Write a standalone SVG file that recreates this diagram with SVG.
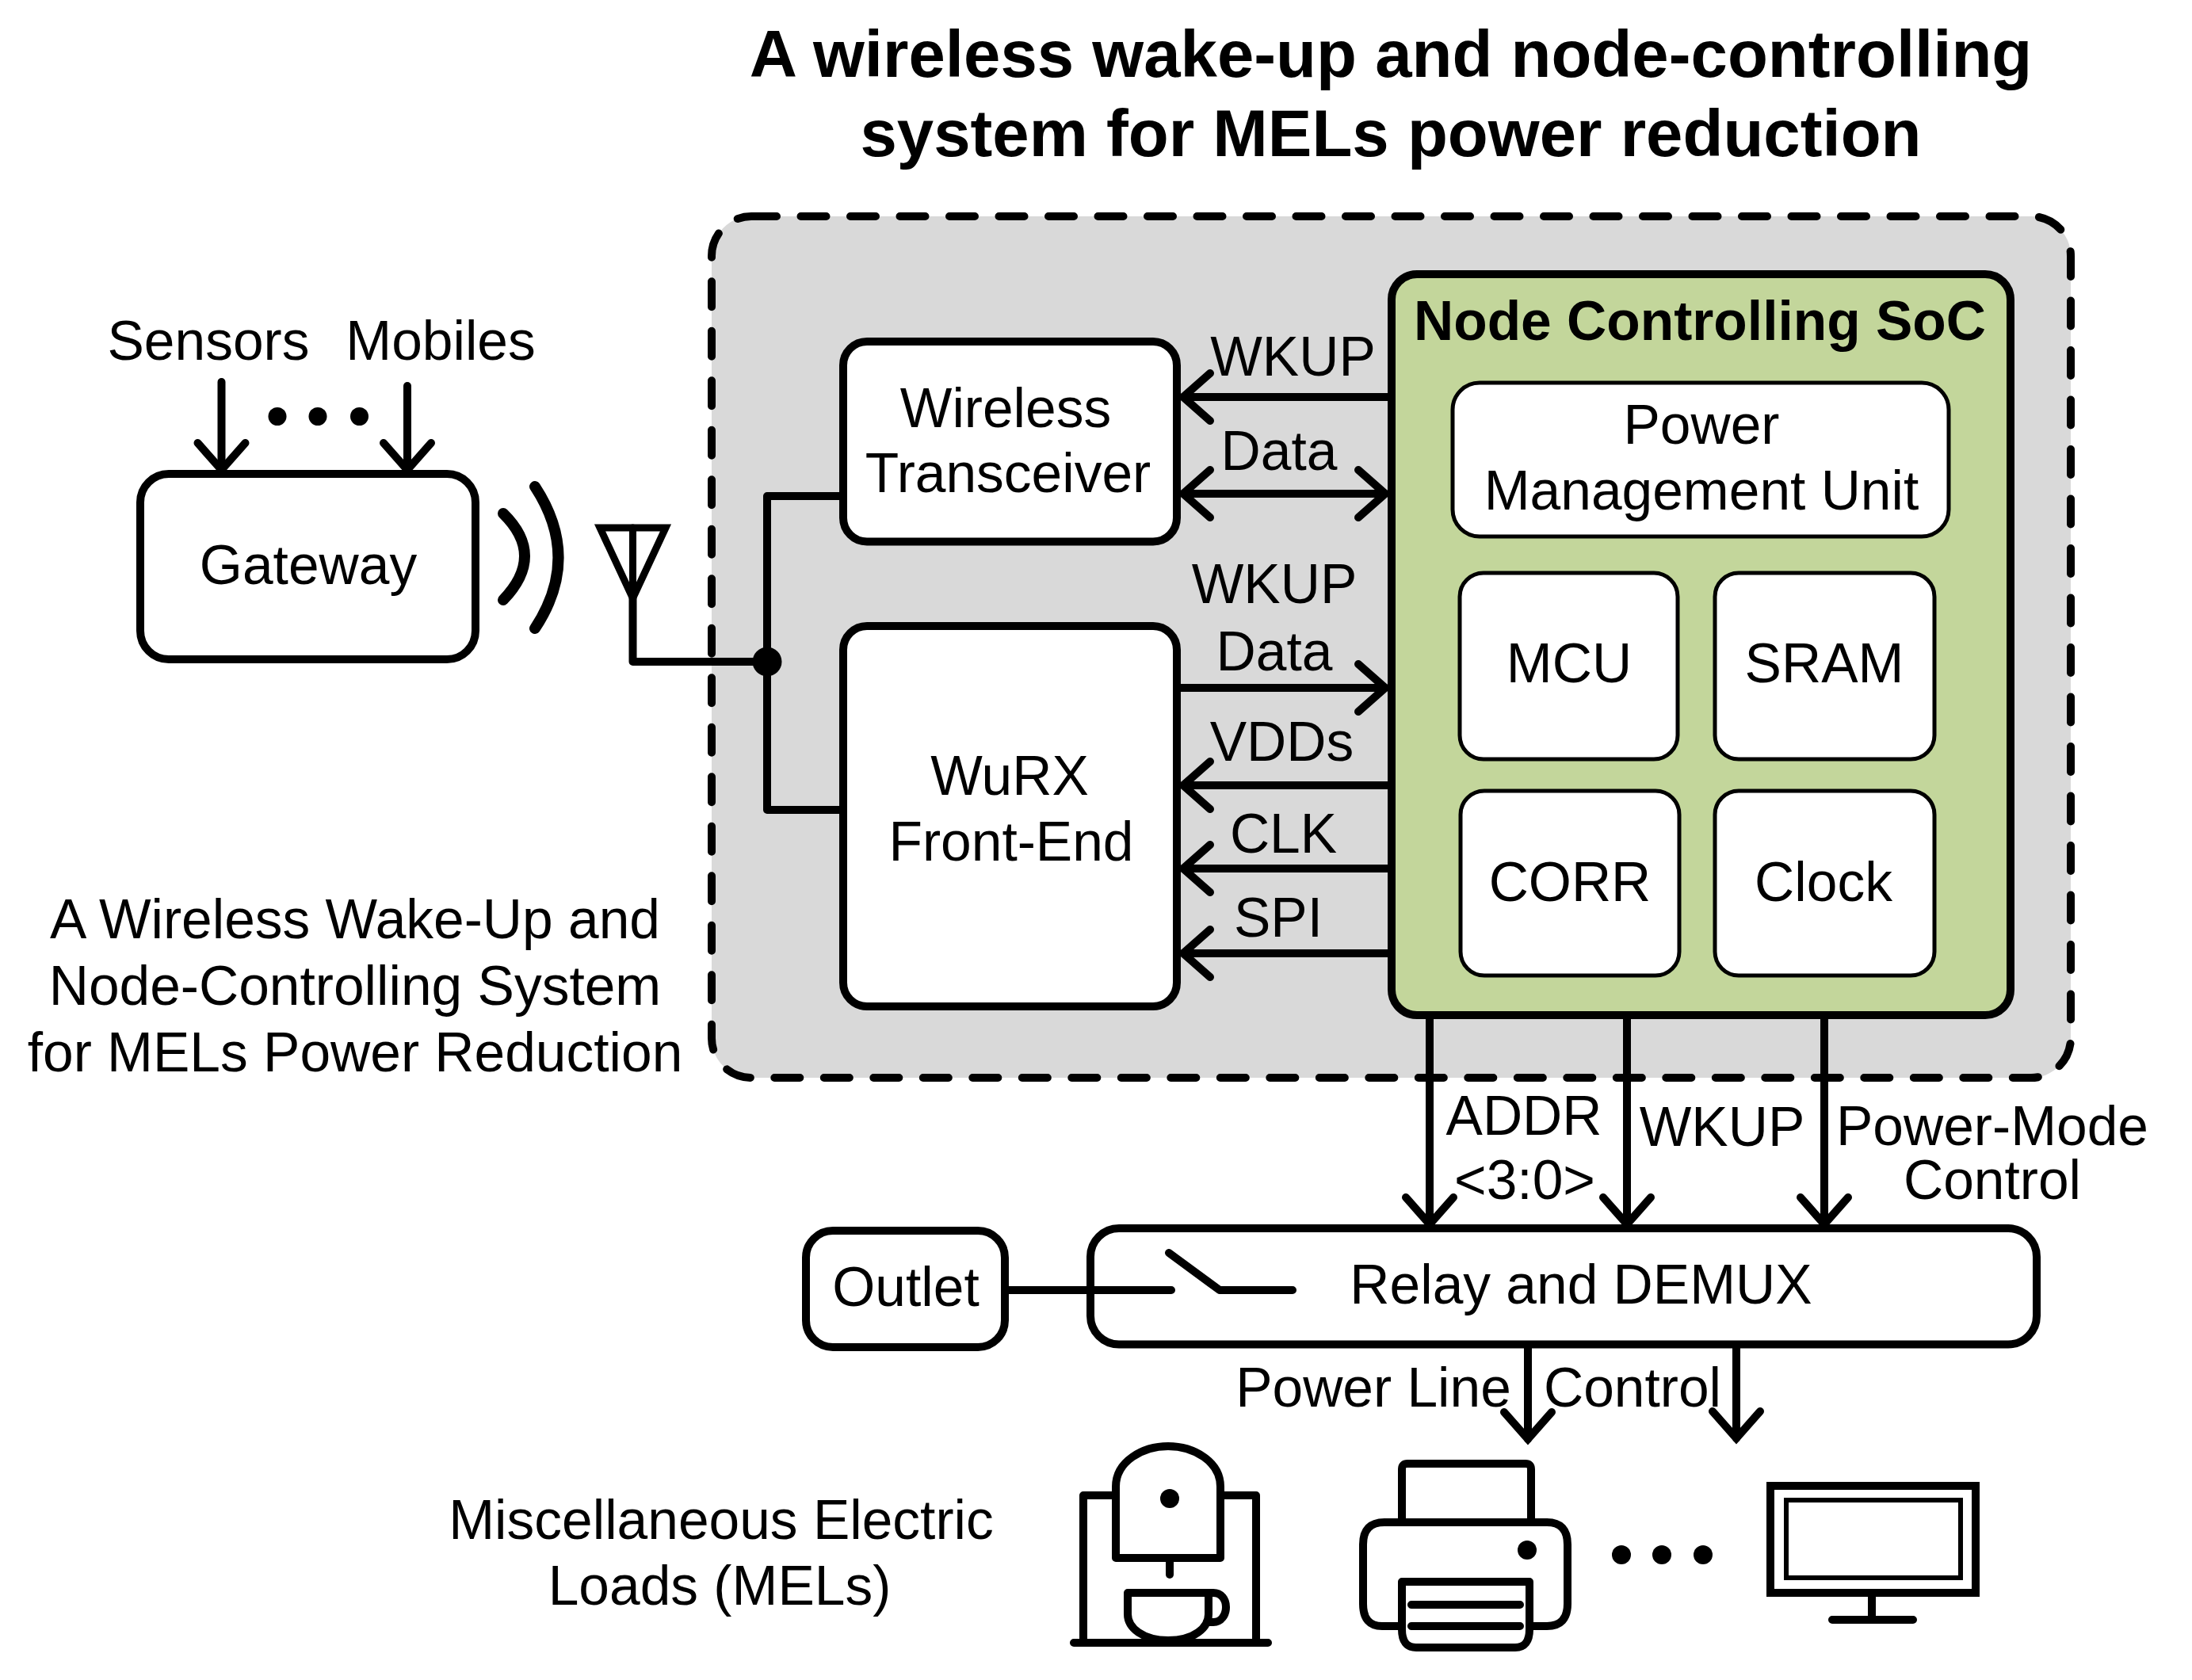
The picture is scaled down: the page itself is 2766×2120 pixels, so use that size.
<svg xmlns="http://www.w3.org/2000/svg" width="2766" height="2120" viewBox="0 0 2766 2120">
<defs>
<marker id="arrow" markerUnits="userSpaceOnUse" markerWidth="80" markerHeight="80" refX="60" refY="40" orient="auto-start-reverse" overflow="visible">
<path d="M26,10 L60,40 L26,70" fill="none" stroke="#000" stroke-width="10" stroke-linecap="round" stroke-linejoin="miter"/>
</marker>
</defs>
<style>
text{font-family:"Liberation Sans",Arial,sans-serif;font-size:69.5px;fill:#000;text-anchor:middle}
.b{font-weight:700}
.t{font-size:83.4px;font-weight:700}
.box{fill:#fff;stroke:#000;stroke-width:10}
.thin{fill:#fff;stroke:#000;stroke-width:5}
.ln{fill:none;stroke:#000;stroke-width:10;stroke-linecap:round;stroke-linejoin:round}
.ar{marker-end:url(#arrow)}
.wave{fill:none;stroke:#000;stroke-width:14;stroke-linecap:round}
.ic{fill:none;stroke:#000;stroke-width:10;stroke-linecap:round;stroke-linejoin:round}
.icw{fill:#fff;stroke:#000;stroke-width:10;stroke-linejoin:round}
</style>
<rect width="2766" height="2120" fill="#fff"/>
<g id="title"><text class="t" x="1755" y="97">A wireless wake-up and node-controlling</text><text class="t" x="1755" y="197">system for MELs power reduction</text></g>
<g id="system"><rect x="898" y="273" width="1715" height="1087" rx="50" fill="#d9d9d9" stroke="#000" stroke-width="10" stroke-dasharray="32 30.5" stroke-linecap="round"/></g>
<g id="connectors">
<path class="ln ar" d="M279.500,482V593"/>
<path class="ln ar" d="M514,487V593"/>
<path class="wave" d="M635,648Q689,701 635,757"/>
<path class="wave" d="M675,614Q734,704 675,793"/>
<path class="ln" d="M798.500,755V835H968M1064,626H968V1022H1064"/>
<path class="ln ar" d="M1756,501H1493"/>
<path class="ln ar" d="M1748,623H1493" style="marker-start:url(#arrow)"/>
<path class="ln ar" d="M1485,868H1748"/>
<path class="ln ar" d="M1756,991H1493"/>
<path class="ln ar" d="M1756,1096H1493"/>
<path class="ln ar" d="M1756,1203H1493"/>
<path class="ln ar" d="M1804,1281V1545"/>
<path class="ln ar" d="M2053,1281V1545"/>
<path class="ln ar" d="M2302,1281V1545"/>
<path class="ln ar" d="M1928,1695V1816"/>
<path class="ln ar" d="M2191,1695V1815"/>
</g>
<g id="dots-inputs"><circle cx="350" cy="525.500" r="11.500"/><circle cx="401" cy="525.500" r="11.500"/><circle cx="453.500" cy="525.500" r="11.500"/></g>
<g id="antenna"><path d="M757,666H840L798.500,755Z" fill="none" stroke="#000" stroke-width="9"/><path class="ln" d="M798.500,666V755" style="stroke-width:9"/><circle cx="968" cy="835" r="18.500"/></g>
<g id="gateway"><rect class="box" x="177" y="598" width="423" height="234" rx="36"/><text x="389" y="737">Gateway</text></g>
<g id="sensor-labels"><text x="263" y="453.500">Sensors</text><text x="556" y="453.500">Mobiles</text></g>
<g id="transceiver"><rect class="box" x="1064" y="431" width="421" height="252.500" rx="30"/><text x="1269" y="539">Wireless</text><text x="1272" y="621">Transceiver</text></g>
<g id="wurx"><rect class="box" x="1064" y="790" width="421" height="480" rx="30"/><text x="1274" y="1003">WuRX</text><text x="1276" y="1086">Front-End</text></g>
<g id="soc"><rect x="1756" y="346" width="781" height="935" rx="32" fill="#c3d69b" stroke="#000" stroke-width="10"/><text class="b" x="2145" y="429">Node Controlling SoC</text></g>
<g id="pmu"><rect class="thin" x="1833" y="483" width="626" height="194" rx="34"/><text x="2147" y="560">Power</text><text x="2147" y="643">Management Unit</text></g>
<g id="mcu"><rect class="thin" x="1842" y="723" width="275" height="235" rx="30"/><text x="1980" y="861">MCU</text></g>
<g id="sram"><rect class="thin" x="2164" y="723" width="277" height="235" rx="30"/><text x="2302" y="861">SRAM</text></g>
<g id="corr"><rect class="thin" x="1843" y="998" width="276" height="233" rx="30"/><text x="1981" y="1137">CORR</text></g>
<g id="clock"><rect class="thin" x="2164" y="998" width="277" height="233" rx="30"/><text x="2301" y="1137">Clock</text></g>
<g id="labels">
<text x="1631.500" y="474">WKUP</text><text x="1614" y="592.500">Data</text>
<text x="1608" y="761">WKUP</text><text x="1608" y="845.500">Data</text>
<text x="1617.500" y="960">VDDs</text><text x="1619.500" y="1076">CLK</text><text x="1613" y="1182">SPI</text>
<text x="448" y="1184">A Wireless Wake-Up and</text><text x="448" y="1268">Node-Controlling System</text><text x="448" y="1352">for MELs Power Reduction</text>
<text x="1923" y="1432">ADDR</text><text x="1924" y="1513">&lt;3:0&gt;</text><text x="2173" y="1446">WKUP</text><text x="2514" y="1445">Power-Mode</text><text x="2514" y="1513">Control</text>
<text x="1733" y="1775">Power Line</text><text x="2060" y="1775">Control</text>
<text x="910" y="1942">Miscellaneous Electric</text><text x="908" y="2025">Loads (MELs)</text>
</g>
<g id="outlet"><rect class="box" x="1017" y="1553" width="251" height="147" rx="34"/><text x="1143" y="1648">Outlet</text></g>
<g id="relay"><rect class="box" x="1376" y="1550" width="1194" height="146.500" rx="36"/><text x="1995" y="1645">Relay and DEMUX</text><path class="ln" d="M1268,1628H1478M1475,1581L1539,1628H1631"/></g>
<g id="coffee-machine">
<path class="ic" d="M1355,2073H1600M1367,2073V1887H1408M1585,2073V1887H1540"/>
<path class="icw" d="M1408,1966V1876C1408,1844 1442,1825 1474,1825C1506,1825 1540,1844 1540,1876V1966Z"/>
<circle cx="1476" cy="1891" r="12"/>
<path class="ic" d="M1476,1971V1987"/>
<path class="ic" d="M1423,2010H1525V2037C1525,2054 1507,2070 1474,2070C1442,2070 1423,2054 1423,2037Z"/>
<path class="ic" d="M1525,2010H1531C1541,2010 1547,2018 1547,2028C1547,2038 1541,2047 1531,2047H1523"/>
</g>
<g id="printer">
<path class="ic" d="M1769,1921V1854Q1769,1847 1776,1847H1925Q1932,1847 1932,1854V1921"/>
<path class="ic" d="M1769,2052H1744Q1720,2052 1720,2024V1949Q1720,1921 1747,1921H1952Q1978,1921 1978,1949V2024Q1978,2052 1952,2052H1930"/>
<path class="ic" d="M1769,1996H1930V2056Q1930,2079 1912,2079H1787Q1769,2079 1769,2056Z"/>
<path class="ic" d="M1781,2025H1918M1781,2052H1918"/>
<circle cx="1927" cy="1956" r="12"/>
</g>
<g id="more-loads"><circle cx="2046" cy="1962" r="12"/><circle cx="2097" cy="1962" r="12"/><circle cx="2149" cy="1962" r="12"/></g>
<g id="monitor">
<rect x="2234" y="1875" width="259" height="135" fill="none" stroke="#000" stroke-width="10"/>
<rect x="2254" y="1893" width="220" height="98" fill="none" stroke="#000" stroke-width="6"/>
<path class="ic" d="M2362,2010V2044M2312,2044H2414"/>
</g>
</svg>
